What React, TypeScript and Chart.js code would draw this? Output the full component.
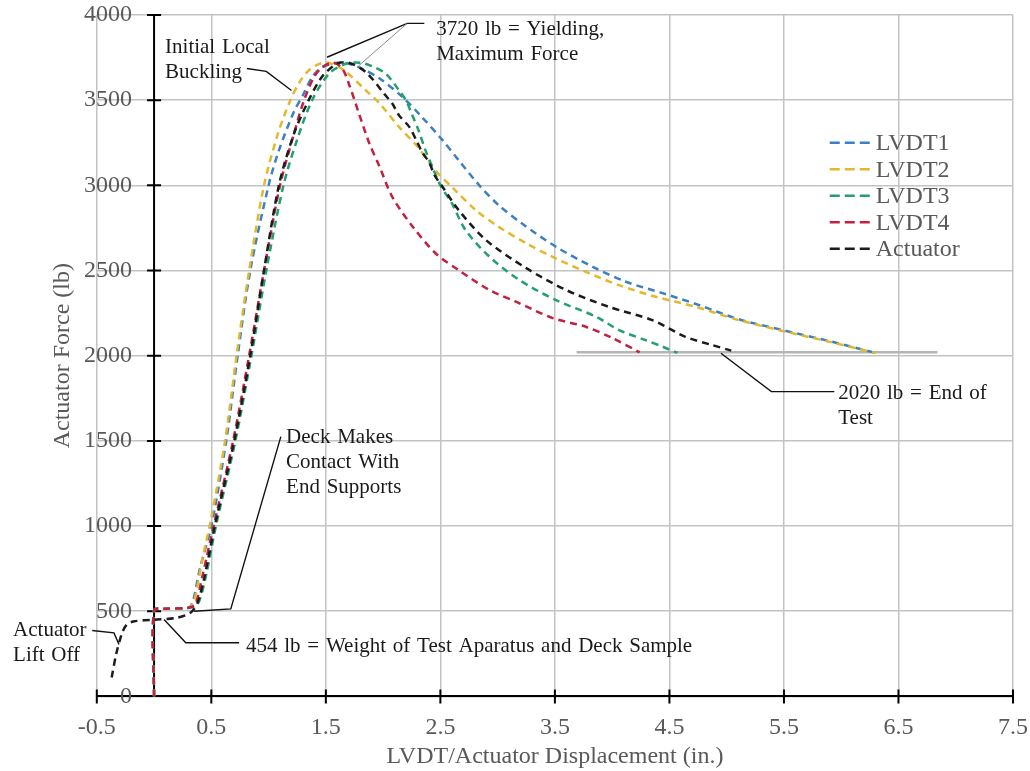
import React, { useEffect, useRef } from "react";
import { Chart, registerables } from "chart.js";

Chart.register(...registerables);

const FONT = '"Liberation Serif", "Times New Roman", serif';
const GRAY_TEXT = "#595959";
const GRID = "#c3c3c3";

// Axis ticks
const xTickValues = [-0.5, 0.5, 1.5, 2.5, 3.5, 4.5, 5.5, 6.5, 7.5];
const xTickLabels = ["-0.5", "0.5", "1.5", "2.5", "3.5", "4.5", "5.5", "6.5", "7.5"];
const yTickValues = [0, 500, 1000, 1500, 2000, 2500, 3000, 3500, 4000];
const yTickLabels = ["0", "500", "1000", "1500", "2000", "2500", "3000", "3500", "4000"];

// Series
const seriesNames = ["LVDT1", "LVDT2", "LVDT3", "LVDT4", "Actuator"];
const seriesColors = ["#3b80c2", "#e2b82c", "#22a06e", "#c22040", "#1c1c1c"];

const lvdt1X = [0, 0, 0.1, 0.3, 0.34, 0.4, 0.5, 0.63, 0.73, 0.84, 1.0, 1.09, 1.22, 1.3, 1.38, 1.46, 1.56, 1.66, 1.8, 1.97, 2.17, 2.34, 2.52, 2.66, 2.84, 3.01, 3.21, 3.51, 3.83, 4.12, 4.44, 4.76, 5.1, 5.49, 5.92, 6.3];
const lvdt1Y = [0, 505, 515, 520, 560, 750, 1000, 1500, 2000, 2500, 3000, 3205, 3430, 3530, 3635, 3690, 3715, 3720, 3690, 3627, 3518, 3400, 3264, 3147, 3000, 2883, 2777, 2639, 2522, 2434, 2367, 2297, 2215, 2150, 2082, 2016];

const lvdt2X = [0, 0, 0.1, 0.3, 0.35, 0.42, 0.5, 0.62, 0.72, 0.83, 0.96, 1.08, 1.19, 1.28, 1.36, 1.45, 1.52, 1.65, 1.85, 1.97, 2.14, 2.29, 2.47, 2.63, 2.81, 3.01, 3.25, 3.48, 3.77, 4.06, 4.38, 4.73, 5.1, 5.49, 5.92, 6.3];
const lvdt2Y = [0, 505, 515, 520, 560, 800, 1050, 1500, 2000, 2500, 3000, 3300, 3500, 3616, 3680, 3715, 3720, 3680, 3557, 3480, 3342, 3235, 3078, 2971, 2854, 2756, 2660, 2580, 2492, 2414, 2346, 2287, 2210, 2145, 2078, 2016];

const lvdt3X = [0, 0, 0.1, 0.3, 0.38, 0.45, 0.54, 0.71, 0.85, 0.98, 1.13, 1.25, 1.38, 1.53, 1.68, 1.8, 1.9, 2.02, 2.14, 2.2, 2.25, 2.31, 2.37, 2.43, 2.5, 2.6, 2.72, 2.93, 3.19, 3.51, 3.86, 4.06, 4.29, 4.44, 4.57];
const lvdt3Y = [0, 505, 515, 520, 540, 700, 1000, 1500, 2000, 2500, 3000, 3270, 3500, 3657, 3715, 3720, 3700, 3657, 3557, 3498, 3420, 3322, 3205, 3108, 3000, 2895, 2737, 2580, 2444, 2326, 2229, 2150, 2092, 2053, 2016];

const lvdt4X = [0, 0, 0.1, 0.3, 0.36, 0.42, 0.52, 0.69, 0.83, 0.96, 1.1, 1.22, 1.31, 1.4, 1.47, 1.56, 1.64, 1.7, 1.79, 1.88, 1.97, 2.08, 2.26, 2.46, 2.66, 2.93, 3.16, 3.48, 3.77, 4.0, 4.24];
const lvdt4Y = [0, 505, 515, 520, 540, 700, 1000, 1500, 2000, 2500, 3000, 3300, 3500, 3640, 3694, 3720, 3690, 3598, 3420, 3246, 3108, 2932, 2756, 2600, 2502, 2385, 2317, 2221, 2170, 2104, 2020];

const actuatorX = [-0.37, -0.33, -0.28, -0.24, -0.18, 0, 0.2, 0.32, 0.38, 0.44, 0.53, 0.7, 0.84, 0.96, 1.09, 1.22, 1.35, 1.47, 1.6, 1.7, 1.85, 2.01, 2.08, 2.14, 2.23, 2.29, 2.34, 2.4, 2.45, 2.52, 2.66, 2.9, 3.25, 3.6, 3.97, 4.35, 4.64, 4.87, 5.04];
const actuatorY = [111, 250, 370, 420, 440, 450, 462, 492, 550, 700, 1000, 1500, 2000, 2500, 3000, 3300, 3500, 3640, 3715, 3720, 3664, 3537, 3480, 3410, 3342, 3264, 3196, 3137, 3059, 2990, 2854, 2678, 2514, 2385, 2287, 2209, 2111, 2063, 2030];

// End-of-test reference line (2020 lb)
const endLineX = [3.69, 6.84];
const endLineY = [2020, 2020];

// Annotation leader lines (data coordinates)
const leaderLinesX = [
  [0.81, 0.98, 1.2],
  [1.51, 2.21, 2.36],
  [1.107, 0.67, 0.35],
  [0.087, 0.277, 0.742],
  [4.95, 5.39, 5.94],
  [-0.54, -0.35, -0.306],
];
const leaderLinesY = [
  [3686, 3669, 3557],
  [3752, 3951, 3951],
  [1525, 514, 500],
  [451, 315, 315],
  [2014, 1789, 1789],
  [387, 373, 305],
];
const yieldGrayLeaderX = [1.79, 2.21];
const yieldGrayLeaderY = [3704, 3951];

// Annotation texts (anchor = left/baseline of first line, data coordinates)
const noteLines = [
  ["Initial Local", "Buckling"],
  ["3720 lb = Yielding,", "Maximum Force"],
  ["Deck Makes", "Contact With", "End Supports"],
  ["454 lb = Weight of Test Aparatus and Deck Sample"],
  ["2020 lb = End of", "Test"],
  ["Actuator", "Lift Off"],
];
const noteX = [0.096, 2.463, 1.153, 0.803, 5.974, -1.231];
const noteY = [3774, 3885, 1488, 258, 1746, 357];

const seriesX = [lvdt1X, lvdt2X, lvdt3X, lvdt4X, actuatorX];
const seriesY = [lvdt1Y, lvdt2Y, lvdt3Y, lvdt4Y, actuatorY];

const toPoints = (xs: number[], ys: number[]) => xs.map((x, i) => ({ x, y: ys[i] }));

const axesPlugin = {
  id: "crossAxes",
  beforeDatasetsDraw(chart: any) {
    const { ctx, chartArea } = chart;
    const xs = chart.scales.x;
    const ys = chart.scales.y;
    const x0 = xs.getPixelForValue(0);
    const y0 = ys.getPixelForValue(0);
    ctx.save();
    ctx.strokeStyle = "#000";
    ctx.lineWidth = 2;
    ctx.beginPath();
    // vertical axis line at x = 0
    ctx.moveTo(x0, chartArea.top);
    ctx.lineTo(x0, chartArea.bottom);
    yTickValues.forEach((v) => {
      if (v === 0) return;
      const py = ys.getPixelForValue(v);
      ctx.moveTo(x0 - 7, py);
      ctx.lineTo(x0 + 7, py);
    });
    xTickValues.forEach((v) => {
      const px = xs.getPixelForValue(v);
      ctx.moveTo(px, y0 - 7);
      ctx.lineTo(px, y0 + 7);
    });
    ctx.stroke();
    ctx.restore();
  },
};

const annotationPlugin = {
  id: "notes",
  afterDatasetsDraw(chart: any) {
    const { ctx } = chart;
    const xs = chart.scales.x;
    const ys = chart.scales.y;
    ctx.save();
    ctx.strokeStyle = "#111";
    ctx.lineWidth = 1.4;
    leaderLinesX.forEach((lx, i) => {
      const ly = leaderLinesY[i];
      ctx.beginPath();
      lx.forEach((v, j) => {
        const px = xs.getPixelForValue(v);
        const py = ys.getPixelForValue(ly[j]);
        if (j === 0) ctx.moveTo(px, py);
        else ctx.lineTo(px, py);
      });
      ctx.stroke();
    });
    ctx.strokeStyle = "#8a8a8a";
    ctx.lineWidth = 1;
    ctx.beginPath();
    yieldGrayLeaderX.forEach((v, j) => {
      const px = xs.getPixelForValue(v);
      const py = ys.getPixelForValue(yieldGrayLeaderY[j]);
      if (j === 0) ctx.moveTo(px, py);
      else ctx.lineTo(px, py);
    });
    ctx.stroke();
    ctx.fillStyle = "#1a1a1a";
    ctx.font = `21px ${FONT}`;
    ctx.textAlign = "left";
    ctx.textBaseline = "alphabetic";
    try {
      (ctx as any).wordSpacing = "1.5px";
    } catch (e) {}
    noteLines.forEach((lines, i) => {
      const px = xs.getPixelForValue(noteX[i]);
      const py = ys.getPixelForValue(noteY[i]);
      lines.forEach((t, k) => ctx.fillText(t, px, py + k * 25));
    });
    ctx.restore();
  },
};

const legendPlugin = {
  id: "insideLegend",
  afterDraw(chart: any) {
    const { ctx } = chart;
    const xs = chart.scales.x;
    const ys = chart.scales.y;
    const lx = xs.getPixelForValue(5.9);
    const top = ys.getPixelForValue(3250);
    ctx.save();
    ctx.font = `24px ${FONT}`;
    ctx.textBaseline = "middle";
    ctx.textAlign = "left";
    seriesNames.forEach((name, i) => {
      const cy = top + i * 26.5;
      ctx.strokeStyle = seriesColors[i];
      ctx.lineWidth = 2.5;
      ctx.setLineDash([10, 5]);
      ctx.beginPath();
      ctx.moveTo(lx, cy);
      ctx.lineTo(lx + 40, cy);
      ctx.stroke();
      ctx.setLineDash([]);
      ctx.fillStyle = GRAY_TEXT;
      ctx.fillText(name, lx + 46, cy + 1);
    });
    ctx.restore();
  },
};

export default function App() {
  const canvasRef = useRef<HTMLCanvasElement | null>(null);

  useEffect(() => {
    if (!canvasRef.current) return;
    Chart.defaults.font.family = FONT;
    const datasets: any[] = seriesNames.map((name, i) => ({
      label: name,
      data: toPoints(seriesX[i], seriesY[i]),
      borderColor: seriesColors[i],
      backgroundColor: seriesColors[i],
      borderWidth: 2.5,
      borderDash: [7, 5],
      pointRadius: 0,
      tension: 0.3,
      fill: false,
      order: seriesNames.length - 1 - i,
      xAxisID: "x",
      yAxisID: "y",
    }));
    datasets.push({
      label: "End of Test",
      data: toPoints(endLineX, endLineY),
      borderColor: "#b5b5b5",
      borderWidth: 2.5,
      pointRadius: 0,
      fill: false,
      order: 10,
      xAxisID: "x",
      yAxisID: "y",
    });

    const chart = new Chart(canvasRef.current, {
      type: "line",
      data: { datasets },
      options: {
        animation: false,
        responsive: false,
        layout: { padding: { left: 44, right: 17, top: 15, bottom: 0 } },
        plugins: { legend: { display: false }, tooltip: { enabled: false } },
        scales: {
          x: {
            type: "linear",
            position: "bottom",
            min: -0.5,
            max: 7.5,
            afterBuildTicks: (s: any) => {
              s.ticks = xTickValues.map((v) => ({ value: v }));
            },
            ticks: {
              autoSkip: false,
              maxRotation: 0,
              color: GRAY_TEXT,
              font: { family: FONT, size: 24 },
              padding: 0,
              callback: (v: any) => xTickLabels[xTickValues.indexOf(Number(v))],
            },
            grid: {
              color: GRID,
              lineWidth: 1.5,
              drawTicks: true,
              tickLength: 17,
              tickColor: "rgba(0,0,0,0)",
              z: -1,
            },
            border: { display: true, color: "#000", width: 2 },
            title: {
              display: true,
              text: "LVDT/Actuator Displacement (in.)",
              color: GRAY_TEXT,
              font: { family: FONT, size: 24 },
              padding: { top: 0, bottom: 0 },
            },
          },
          y: {
            type: "linear",
            position: { x: -0.192 } as any,
            min: 0,
            max: 4000,
            afterBuildTicks: (s: any) => {
              s.ticks = yTickValues.map((v) => ({ value: v }));
            },
            ticks: {
              color: GRAY_TEXT,
              font: { family: FONT, size: 24 },
              padding: 0,
              callback: (v: any) => yTickLabels[yTickValues.indexOf(Number(v))],
            },
            grid: { color: GRID, lineWidth: 1.5, drawTicks: false, z: -1 },
            border: { display: false },
          },
          yTitle: {
            type: "linear",
            position: "left",
            min: 0,
            max: 4000,
            ticks: { display: false },
            grid: { display: false, drawTicks: false },
            border: { display: false },
            title: {
              display: true,
              text: "Actuator Force (lb)",
              color: GRAY_TEXT,
              font: { family: FONT, size: 24 },
              padding: { top: 4, bottom: 20 },
            },
          },
        },
      } as any,
      plugins: [axesPlugin, annotationPlugin, legendPlugin],
    });
    return () => chart.destroy();
  }, []);

  return (
    <div style={{ position: "fixed", left: 0, top: 0, width: 1030, height: 771, background: "#fff" }}>
      <canvas ref={canvasRef} width={1030} height={771} style={{ display: "block" }} />
    </div>
  );
}
